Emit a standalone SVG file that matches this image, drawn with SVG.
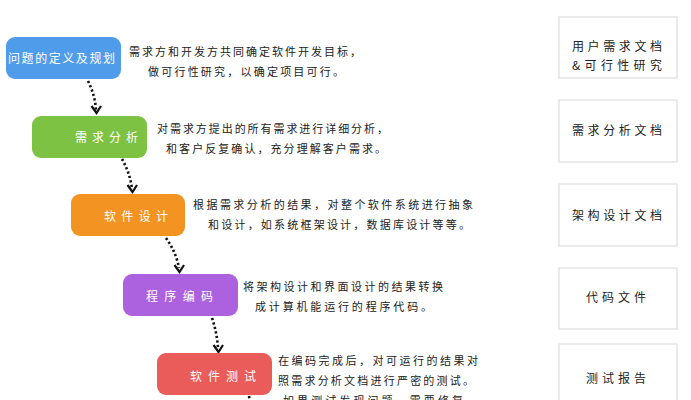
<svg xmlns="http://www.w3.org/2000/svg" width="691" height="400" viewBox="0 0 691 400">
<defs>
<style>
text{font-family:"Noto Sans CJK SC","Noto Sans",sans-serif;}
.nl{fill:#ffffff;font-size:12px;}
.ds{fill:#222;font-size:11px;}
.dl{fill:#222;font-size:12px;}
.doc{fill:#fff;stroke:#dcdcdc;stroke-width:1.2;}
.conn{fill:none;stroke:#111;stroke-width:2.6;stroke-dasharray:2.2 2.4;}
</style>
<marker id="ah" viewBox="0 0 10 10" refX="5" refY="7" markerWidth="10" markerHeight="10" markerUnits="userSpaceOnUse" orient="auto-start-reverse">
</marker>
</defs>
<rect width="691" height="400" fill="#ffffff"/>

<g id="connectors">
<path class="conn" d="M88,81 Q95,95 96,110"/>
<path d="M91.5,106 L96.5,113 L101,106" fill="none" stroke="#111" stroke-width="2.2"/>
<path class="conn" d="M122,159 Q130,173 132,189"/>
<path d="M127.5,185 L132.5,192 L137,185" fill="none" stroke="#111" stroke-width="2.2"/>
<path class="conn" d="M166,238 Q176,252 179,268"/>
<path d="M174.5,265 L179.5,272 L184,265" fill="none" stroke="#111" stroke-width="2.2"/>
<path class="conn" d="M212,318 Q217,333 218,348"/>
<path d="M213.5,345 L218.5,352 L223,345" fill="none" stroke="#111" stroke-width="2.2"/>
<path class="conn" d="M249,396 L250,402"/>
</g>

<g id="n1">
<rect x="6" y="37" width="115" height="42" rx="9" fill="#4f9ceb"/>
<text class="nl" x="8" y="63" textLength="107" lengthAdjust="spacing" font-size="11">问题的定义及规划</text>
<text class="ds" x="129" y="56" textLength="232" lengthAdjust="spacing">需求方和开发方共同确定软件开发目标，</text>
<text class="ds" x="148" y="76" textLength="196" lengthAdjust="spacing">做可行性研究，以确定项目可行。</text>
</g>

<g id="n2">
<rect x="32" y="116" width="115" height="42" rx="9" fill="#7dc242"/>
<text class="nl" x="75" y="142" textLength="63" lengthAdjust="spacing" font-size="13">需求分析</text>
<text class="ds" x="157" y="133" textLength="231" lengthAdjust="spacing">对需求方提出的所有需求进行详细分析，</text>
<text class="ds" x="166" y="153" textLength="220" lengthAdjust="spacing">和客户反复确认，充分理解客户需求。</text>
</g>

<g id="n3">
<rect x="71" y="194" width="114" height="42" rx="9" fill="#f39422"/>
<text class="nl" x="104" y="221" textLength="64" lengthAdjust="spacing" font-size="13">软件设计</text>
<text class="ds" x="193" y="209" textLength="280" lengthAdjust="spacing">根据需求分析的结果，对整个软件系统进行抽象</text>
<text class="ds" x="208" y="229" textLength="262" lengthAdjust="spacing">和设计，如系统框架设计，数据库设计等等。</text>
</g>

<g id="n4">
<rect x="123" y="274" width="115" height="42" rx="9" fill="#ac62de"/>
<text class="nl" x="146" y="301" textLength="67" lengthAdjust="spacing" font-size="13">程序编码</text>
<text class="ds" x="243" y="291" textLength="200" lengthAdjust="spacing">将架构设计和界面设计的结果转换</text>
<text class="ds" x="255" y="311" textLength="177" lengthAdjust="spacing">成计算机能运行的程序代码。</text>
</g>

<g id="n5">
<rect x="157" y="353" width="115" height="42" rx="9" fill="#e95c59"/>
<text class="nl" x="190" y="381" textLength="66" lengthAdjust="spacing" font-size="13">软件测试</text>
<text class="ds" x="278" y="365" textLength="200" lengthAdjust="spacing">在编码完成后，对可运行的结果对</text>
<text class="ds" x="278" y="385" textLength="196" lengthAdjust="spacing">照需求分析文档进行严密的测试。</text>
<text class="ds" x="283" y="405" textLength="180" lengthAdjust="spacing">如果测试发现问题，需要修复</text>
</g>

<g id="d1">
<rect class="doc" x="559" y="17" width="118" height="61"/>
<text class="dl" x="572" y="51" textLength="90" lengthAdjust="spacing">用户需求文档</text>
<text class="dl" x="572" y="70" textLength="90" lengthAdjust="spacing">&amp;可行性研究</text>
</g>
<g id="d2">
<rect class="doc" x="559" y="100" width="118" height="62"/>
<text class="dl" x="572" y="135" textLength="90" lengthAdjust="spacing">需求分析文档</text>
</g>
<g id="d3">
<rect class="doc" x="559" y="184" width="118" height="62"/>
<text class="dl" x="572" y="220" textLength="90" lengthAdjust="spacing">架构设计文档</text>
</g>
<g id="d4">
<rect class="doc" x="559" y="268" width="118" height="61"/>
<text class="dl" x="586" y="302" textLength="60" lengthAdjust="spacing">代码文件</text>
</g>
<g id="d5">
<rect class="doc" x="559" y="344" width="118" height="70"/>
<text class="dl" x="586" y="383" textLength="60" lengthAdjust="spacing">测试报告</text>
</g>
</svg>
